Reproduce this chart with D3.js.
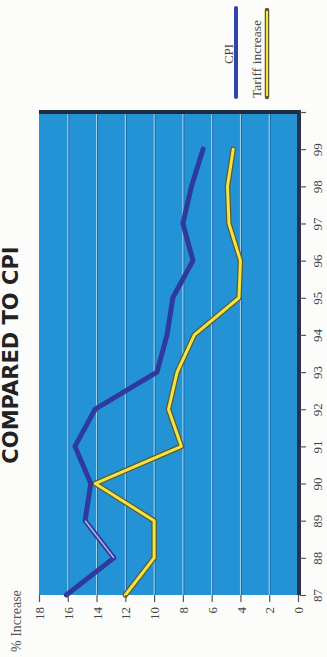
<!DOCTYPE html>
<html>
<head>
<meta charset="utf-8">
<script src="https://cdn.jsdelivr.net/npm/d3@7"></script>
<style>
  html, body { margin: 0; padding: 0; background: #fcfcfa; }
  svg { display: block; }
</style>
</head>
<body>
<svg id="chart" width="327" height="657"></svg>
<script>
// ---- data ----
const years = [87, 88, 89, 90, 91, 92, 93, 94, 95, 96, 97, 98, 99];
const cpi = [16.1, 12.8, 14.8, 14.4, 15.5, 14.1, 9.8, 9.1, 8.7, 7.3, 8.0, 7.4, 6.6];
const tariff = [12.0, 10.0, 10.0, 14.1, 8.1, 9.0, 8.4, 7.2, 4.1, 4.0, 4.8, 4.9, 4.5];
const valueTicks = [0, 2, 4, 6, 8, 10, 12, 14, 16, 18];
const yearTicks = [87, 88, 89, 90, 91, 92, 93, 94, 95, 96, 97, 98, 99, 100];
const seriesNames = ["CPI", "Tariff increase"];
const titleText = "COMPARED TO CPI";
const axisTitle = "% Increase";

const svg = d3.select("#chart");

// chart is drawn rotated: value axis horizontal (18 at left, 0 at right), years vertical (87 at bottom)
const xVal = d3.scaleLinear().domain([18, 0]).range([39, 298]);
const yYear = d3.scaleLinear().domain([87, 100]).range([595, 112]);

const plotL = xVal(18), plotR = xVal(0), plotT = yYear(100), plotB = yYear(87);

// plot background
svg.append("rect")
  .attr("x", plotL).attr("y", plotT)
  .attr("width", plotR - plotL).attr("height", plotB - plotT)
  .attr("fill", "#2393d6");

// gridlines
const grid = svg.append("g");
valueTicks.filter(v => v > 0 && v < 18).forEach(v => {
  grid.append("line")
    .attr("x1", xVal(v) + 1).attr("x2", xVal(v) + 1)
    .attr("y1", plotT).attr("y2", plotB)
    .attr("stroke", "#1b3f78").attr("stroke-opacity", 0.55).attr("stroke-width", 1);
  grid.append("line")
    .attr("x1", xVal(v)).attr("x2", xVal(v))
    .attr("y1", plotT).attr("y2", plotB)
    .attr("stroke", "#d6ecf8").attr("stroke-opacity", 0.75).attr("stroke-width", 1);
});

// dark top and right borders
svg.append("rect")
  .attr("x", plotL).attr("y", plotT - 2)
  .attr("width", plotR - plotL + 3).attr("height", 4)
  .attr("fill", "#1e2a40");
svg.append("rect")
  .attr("x", plotR - 1).attr("y", plotT - 2)
  .attr("width", 4).attr("height", plotB - plotT + 2)
  .attr("fill", "#25324a");

// lines
const cpiData = years.map((y, i) => ({ yr: y, v: cpi[i] }));
const tarData = years.map((y, i) => ({ yr: y, v: tariff[i] }));
const line = d3.line().x(d => xVal(d.v)).y(d => yYear(d.yr));

svg.append("path").datum(tarData)
  .attr("d", line).attr("fill", "none")
  .attr("stroke", "#5f5b26").attr("stroke-width", 5.5)
  .attr("stroke-linejoin", "round").attr("stroke-linecap", "round");
svg.append("path").datum(tarData)
  .attr("d", line).attr("fill", "none")
  .attr("stroke", "#f1e34a").attr("stroke-width", 3)
  .attr("stroke-linejoin", "round").attr("stroke-linecap", "round");

svg.append("path").datum(cpiData)
  .attr("d", line).attr("fill", "none")
  .attr("stroke", "#2f3b9c").attr("stroke-width", 5)
  .attr("stroke-linejoin", "round").attr("stroke-linecap", "round");
// glossy highlight on one segment, as in the print
svg.append("path").datum(cpiData.slice(1, 3))
  .attr("d", line).attr("fill", "none")
  .attr("stroke", "#c9d3f0").attr("stroke-width", 1.5).attr("stroke-opacity", 0.85);

// value axis (bottom)
const axB = svg.append("g")
  .attr("transform", `translate(0,${plotB})`)
  .call(d3.axisBottom(xVal).tickValues(valueTicks).tickSize(7).tickSizeOuter(0));
axB.select(".domain").remove();
axB.selectAll(".tick line").attr("stroke", "#555").attr("stroke-width", 1.2);
axB.selectAll(".tick text")
  .attr("transform", "translate(0,12) rotate(-90)")
  .attr("x", 0).attr("y", 0).attr("dy", "0.35em")
  .attr("text-anchor", "end")
  .attr("fill", "#444")
  .style("font-family", "'Liberation Serif', 'DejaVu Serif', serif")
  .style("font-size", "13px");

// year axis (right)
const axR = svg.append("g")
  .attr("transform", `translate(${plotR + 2},0)`)
  .call(d3.axisRight(yYear).tickValues(yearTicks).tickSize(6).tickSizeOuter(0)
    .tickFormat(d => d === 100 ? "" : String(d)));
axR.select(".domain").remove();
axR.selectAll(".tick line").attr("stroke", "#555").attr("stroke-width", 1.2);
axR.selectAll(".tick text")
  .attr("transform", "translate(22,0) rotate(-90)")
  .attr("x", 0).attr("y", 0).attr("dy", 0)
  .attr("text-anchor", "middle")
  .attr("fill", "#444")
  .style("font-family", "'Liberation Serif', 'DejaVu Serif', serif")
  .style("font-size", "13px");

// title
svg.append("text")
  .attr("transform", "translate(18,355) rotate(-90)")
  .attr("text-anchor", "middle")
  .attr("fill", "#222")
  .style("font-family", "'DejaVu Sans', sans-serif")
  .style("font-weight", "bold")
  .style("font-size", "21px")
  .text(titleText);

// axis title
svg.append("text")
  .attr("transform", "translate(21,652) rotate(-90)")
  .attr("text-anchor", "start")
  .attr("fill", "#555")
  .style("font-family", "'Liberation Serif', 'DejaVu Serif', serif")
  .style("font-size", "14px")
  .text(axisTitle);

// legend
const leg = svg.append("g");
leg.append("line").attr("x1", 236).attr("x2", 236).attr("y1", 8).attr("y2", 97)
  .attr("stroke", "#2f45a8").attr("stroke-width", 4).attr("stroke-linecap", "round");
leg.append("text")
  .attr("transform", "translate(233,54) rotate(-90)")
  .attr("text-anchor", "middle")
  .attr("fill", "#444")
  .style("font-family", "'Liberation Serif', 'DejaVu Serif', serif")
  .style("font-size", "13px")
  .text(seriesNames[0]);
leg.append("line").attr("x1", 267).attr("x2", 267).attr("y1", 10).attr("y2", 97)
  .attr("stroke", "#5f5b26").attr("stroke-width", 4.5).attr("stroke-linecap", "round");
leg.append("line").attr("x1", 267).attr("x2", 267).attr("y1", 11).attr("y2", 96)
  .attr("stroke", "#f1e34a").attr("stroke-width", 2);
leg.append("text")
  .attr("transform", "translate(261,98) rotate(-90)")
  .attr("text-anchor", "start")
  .attr("fill", "#444")
  .style("font-family", "'Liberation Serif', 'DejaVu Serif', serif")
  .style("font-size", "13.5px")
  .text(seriesNames[1]);
</script>
</body>
</html>
